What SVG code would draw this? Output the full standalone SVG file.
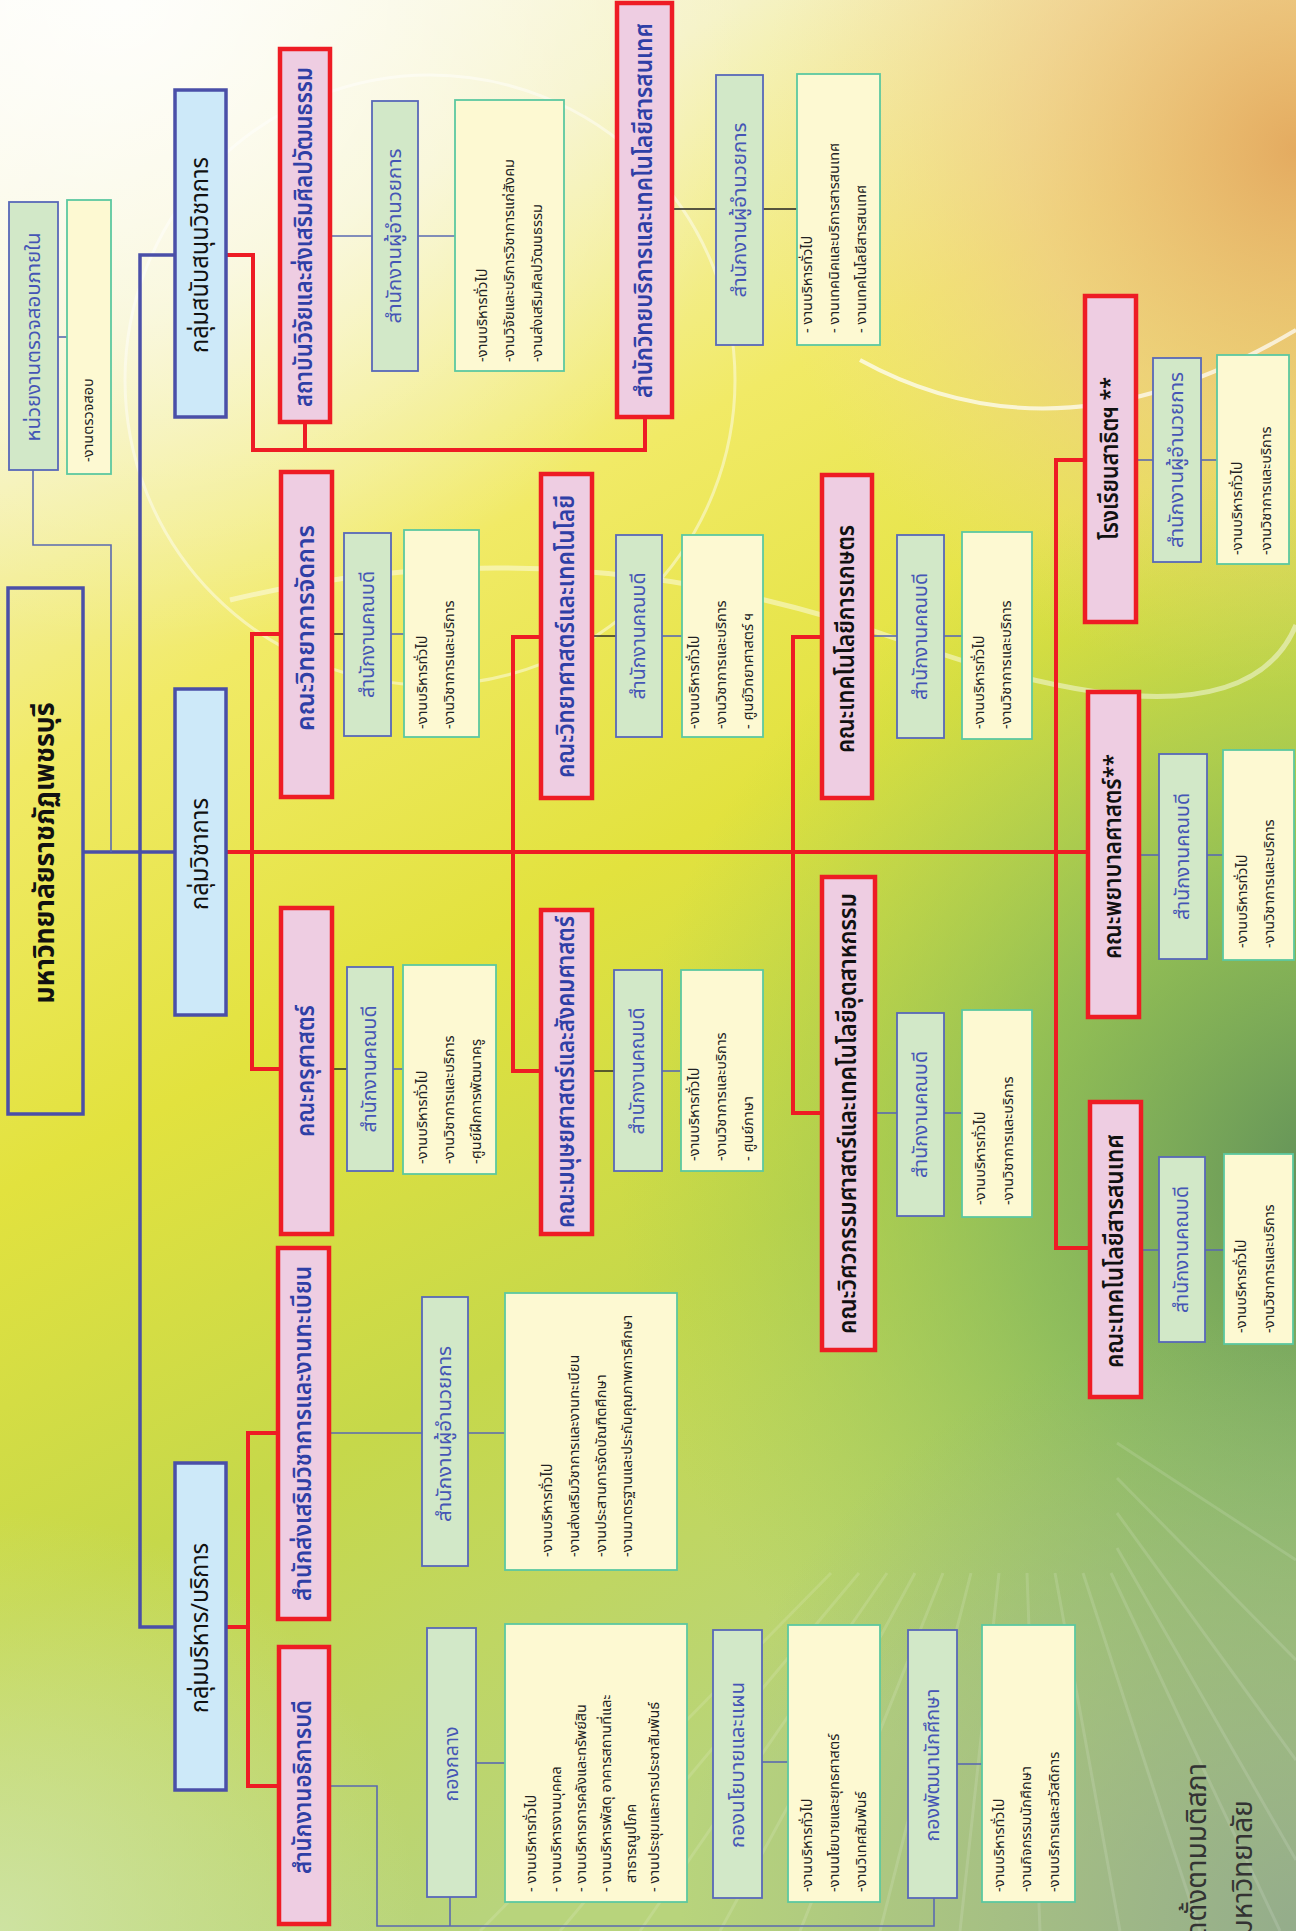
<svg xmlns="http://www.w3.org/2000/svg" width="1296" height="1931" viewBox="0 0 1296 1931">
<style>
.root{fill:none;stroke:#4a4fa8;stroke-width:3.5}
.grp{fill:#cde9f9;stroke:#4a4fa8;stroke-width:3.5}
.unit{fill:#eecde2;stroke:#ee1c24;stroke-width:4.5}
.sub{fill:#d2e8c8;stroke:#5868b8;stroke-width:1.8}
.cnt{fill:#fdf9d2;stroke:#5cc8a0;stroke-width:1.8}
.lb{fill:none;stroke:#4a4fa8;stroke-width:3.5}
.lr{fill:none;stroke:#ee1c24;stroke-width:4}
.lt{fill:none;stroke:#5a6ab0;stroke-width:1.6}
.lk{fill:none;stroke:#222;stroke-width:1.4}
text{font-family:"Noto Sans Thai","Noto Sans","Liberation Sans",sans-serif}
.tr{font-size:28px;font-weight:bold;fill:#111;text-anchor:middle;dominant-baseline:central}
.tg{font-size:24px;fill:#111;text-anchor:middle;dominant-baseline:central}
.tu{font-size:24px;font-weight:600;fill:#2f3fa6;text-anchor:middle;dominant-baseline:central}
.tk{font-size:24px;font-weight:600;fill:#111;text-anchor:middle;dominant-baseline:central}
.ts{font-size:20px;fill:#4555b5;text-anchor:middle;dominant-baseline:central}
.tc{font-size:14.5px;fill:#222;dominant-baseline:central}
.tf{font-size:28px;fill:#333;text-anchor:end;dominant-baseline:central}
</style>
<defs>
<linearGradient id="bg" x1="0" y1="0" x2="0.35" y2="1">
<stop offset="0" stop-color="#fbfaee"/>
<stop offset="0.18" stop-color="#f5f2c4"/>
<stop offset="0.36" stop-color="#f1ea66"/>
<stop offset="0.55" stop-color="#e2e23e"/>
<stop offset="0.75" stop-color="#c6d84a"/>
<stop offset="1" stop-color="#b8d47c"/>
</linearGradient>
<radialGradient id="peach" cx="1296" cy="150" r="540" gradientUnits="userSpaceOnUse">
<stop offset="0" stop-color="#e2a060" stop-opacity="0.85"/>
<stop offset="0.5" stop-color="#efc490" stop-opacity="0.6"/>
<stop offset="1" stop-color="#f4d8a0" stop-opacity="0"/>
</radialGradient>
<radialGradient id="dgreen" cx="1340" cy="1180" r="720" gradientUnits="userSpaceOnUse">
<stop offset="0" stop-color="#5a8a58" stop-opacity="0.95"/>
<stop offset="0.45" stop-color="#7cb45a" stop-opacity="0.7"/>
<stop offset="1" stop-color="#9ccc50" stop-opacity="0"/>
</radialGradient>
<radialGradient id="bgreen" cx="1300" cy="1931" r="620" gradientUnits="userSpaceOnUse">
<stop offset="0" stop-color="#92aa8c" stop-opacity="0.95"/>
<stop offset="1" stop-color="#92aa8c" stop-opacity="0"/>
</radialGradient>
<radialGradient id="tl" cx="120" cy="0" r="650" gradientUnits="userSpaceOnUse">
<stop offset="0" stop-color="#ffffff" stop-opacity="0.85"/>
<stop offset="1" stop-color="#ffffff" stop-opacity="0"/>
</radialGradient>
<radialGradient id="bl" cx="0" cy="1931" r="420" gradientUnits="userSpaceOnUse">
<stop offset="0" stop-color="#cfe4a8" stop-opacity="0.9"/>
<stop offset="1" stop-color="#cfe4a8" stop-opacity="0"/>
</radialGradient>
</defs>

<g id="background">
<rect x="0" y="0" width="1296" height="1931" fill="url(#bg)"/>
<rect x="0" y="0" width="1296" height="1931" fill="url(#tl)"/>
<rect x="0" y="0" width="1296" height="1931" fill="url(#peach)"/>
<rect x="0" y="0" width="1296" height="1931" fill="url(#dgreen)"/>
<rect x="0" y="0" width="1296" height="1931" fill="url(#bgreen)"/>
<rect x="0" y="0" width="1296" height="1931" fill="url(#bl)"/>
<circle cx="430" cy="380" r="305" fill="none" stroke="#ffffff" stroke-opacity="0.45" stroke-width="3"/>
<path d="M860,360 Q1060,470 1296,330" fill="none" stroke="#ffffff" stroke-opacity="0.7" stroke-width="4"/>
<path d="M230,600 Q560,520 900,640 T1296,625" fill="none" stroke="#ffffff" stroke-opacity="0.45" stroke-width="5"/>
<g stroke="#ffffff" stroke-opacity="0.13" stroke-width="3">
<line x1="887" y1="1573" x2="640" y2="1931"/>
<line x1="915" y1="1573" x2="720" y2="1931"/>
<line x1="943" y1="1573" x2="800" y2="1931"/>
<line x1="971" y1="1573" x2="880" y2="1931"/>
<line x1="999" y1="1573" x2="960" y2="1931"/>
<line x1="1027" y1="1573" x2="1040" y2="1931"/>
<line x1="1055" y1="1573" x2="1120" y2="1931"/>
<line x1="1083" y1="1573" x2="1200" y2="1931"/>
<line x1="1111" y1="1573" x2="1280" y2="1931"/>
<line x1="1117" y1="1548" x2="1296" y2="1860"/>
<line x1="1117" y1="1513" x2="1296" y2="1760"/>
<line x1="1117" y1="1478" x2="1296" y2="1660"/>
<line x1="1117" y1="1443" x2="1296" y2="1560"/>
<line x1="859" y1="1573" x2="560" y2="1931"/>
<line x1="831" y1="1573" x2="480" y2="1931"/>
</g>
</g>

<g id="connectors">
<path class="lb" d="M83,852 H175"/>
<path class="lb" d="M175,255 H140 V1627 H175"/>
<path class="lt" d="M33,470 V545 H111 V852"/>
<path class="lt" d="M58,337 H67"/>
<path class="lr" d="M226,255 H253 V450 H645 V417"/>
<path class="lr" d="M305,422 V450"/>
<path class="lr" d="M226,852 H1088"/>
<path class="lr" d="M281,634 H252 V1069 H281"/>
<path class="lr" d="M541,637 H513 V1071 H541"/>
<path class="lr" d="M822,637 H793 V1113 H822"/>
<path class="lr" d="M1085,460 H1056 V1248 H1090"/>
<path class="lr" d="M226,1627 H248"/>
<path class="lr" d="M278,1433 H248 V1786 H279"/>
<path class="lt" d="M330,236 H372"/>
<path class="lt" d="M418,236 H455" stroke-width="2.2"/>
<path class="lk" d="M672,209 H716"/>
<path class="lk" d="M763,209 H797"/>
<path class="lk" d="M332,634 H344"/>
<path class="lt" d="M391,634 H404"/>
<path class="lk" d="M332,1069 H347"/>
<path class="lt" d="M393,1069 H403"/>
<path class="lk" d="M592,636 H616"/>
<path class="lt" d="M662,636 H682"/>
<path class="lk" d="M592,1071 H614"/>
<path class="lt" d="M662,1071 H681"/>
<path class="lt" d="M872,636 H897"/>
<path class="lt" d="M944,636 H962"/>
<path class="lt" d="M875,1113 H897"/>
<path class="lt" d="M944,1113 H962"/>
<path class="lt" d="M1141,1250 H1159"/>
<path class="lt" d="M1205,1250 H1224"/>
<path class="lt" d="M1139,855 H1159"/>
<path class="lt" d="M1207,855 H1223"/>
<path class="lt" d="M1136,460 H1153"/>
<path class="lt" d="M1201,460 H1217"/>
<path class="lt" d="M329,1433 H422"/>
<path class="lt" d="M468,1433 H505"/>
<path class="lt" d="M329,1786 H377 V1926 H934 V1898"/>
<path class="lt" d="M450,1897 V1926"/>
<path class="lt" d="M476,1763 H505" stroke-width="2.2"/>
<path class="lt" d="M762,1762 H788"/>
<path class="lt" d="M957,1764 H982"/>
</g>

<g id="n-root"><rect class="root" x="8" y="588" width="75" height="526"/>
<text class="tr" transform="translate(45,853) rotate(-90)" textLength="301" lengthAdjust="spacingAndGlyphs">มหาวิทยาลัยราชภัฏเพชรบุรี</text></g>

<g id="n-audit"><rect class="sub" x="9" y="202" width="49" height="268"/>
<text class="ts" transform="translate(33.5,337) rotate(-90)" textLength="209" lengthAdjust="spacingAndGlyphs">หน่วยงานตรวจสอบภายใน</text></g>
<g id="n-audit-c"><rect class="cnt" x="67" y="200" width="44" height="274"/>
<text class="tc" transform="translate(89,462) rotate(-90)">-งานตรวจสอบ</text></g>

<g id="n-g-support"><rect class="grp" x="175" y="90" width="51" height="327"/>
<text class="tg" transform="translate(200.5,255) rotate(-90)" textLength="196" lengthAdjust="spacingAndGlyphs">กลุ่มสนับสนุนวิชาการ</text></g>
<g id="n-g-acad"><rect class="grp" x="175" y="689" width="51" height="326"/>
<text class="tg" transform="translate(200.5,854) rotate(-90)" textLength="112" lengthAdjust="spacingAndGlyphs">กลุ่มวิชาการ</text></g>
<g id="n-g-admin"><rect class="grp" x="175" y="1463" width="51" height="327"/>
<text class="tg" transform="translate(200.5,1628) rotate(-90)" textLength="170" lengthAdjust="spacingAndGlyphs">กลุ่มบริหาร/บริการ</text></g>

<g id="n-research"><rect class="unit" x="280" y="49" width="50" height="373"/>
<text class="tu" transform="translate(305,237) rotate(-90)" textLength="340" lengthAdjust="spacingAndGlyphs">สถาบันวิจัยและส่งเสริมศิลปวัฒนธรรม</text></g>
<g id="n-research-s"><rect class="sub" x="372" y="101" width="46" height="270"/>
<text class="ts" transform="translate(395,236) rotate(-90)" textLength="175" lengthAdjust="spacingAndGlyphs">สำนักงานผู้อำนวยการ</text></g>
<g id="n-research-c"><rect class="cnt" x="455" y="100" width="109" height="271"/>
<text class="tc" transform="translate(483,362) rotate(-90)">-งานบริหารทั่วไป</text>
<text class="tc" transform="translate(510,362) rotate(-90)">-งานวิจัยและบริการวิชาการแก่สังคม</text>
<text class="tc" transform="translate(538,362) rotate(-90)">-งานส่งเสริมศิลปวัฒนธรรม</text></g>

<g id="n-library"><rect class="unit" x="617" y="3" width="55" height="414"/>
<text class="tu" transform="translate(644.5,210.5) rotate(-90)" textLength="375" lengthAdjust="spacingAndGlyphs">สำนักวิทยบริการและเทคโนโลยีสารสนเทศ</text></g>
<g id="n-library-s"><rect class="sub" x="716" y="75" width="47" height="270"/>
<text class="ts" transform="translate(739.5,210) rotate(-90)" textLength="175" lengthAdjust="spacingAndGlyphs">สำนักงานผู้อำนวยการ</text></g>
<g id="n-library-c"><rect class="cnt" x="797" y="74" width="83" height="271"/>
<text class="tc" transform="translate(808,333) rotate(-90)">- งานบริหารทั่วไป</text>
<text class="tc" transform="translate(835,333) rotate(-90)">- งานเทคนิคและบริการสารสนเทศ</text>
<text class="tc" transform="translate(862,333) rotate(-90)">- งานเทคโนโลยีสารสนเทศ</text></g>

<g id="n-mgmt"><rect class="unit" x="281" y="472" width="51" height="325"/>
<text class="tu" transform="translate(306.5,628) rotate(-90)" textLength="206" lengthAdjust="spacingAndGlyphs">คณะวิทยาการจัดการ</text></g>
<g id="n-mgmt-s"><rect class="sub" x="344" y="533" width="47" height="203"/>
<text class="ts" transform="translate(367.5,634.5) rotate(-90)" textLength="127" lengthAdjust="spacingAndGlyphs">สำนักงานคณบดี</text></g>
<g id="n-mgmt-c"><rect class="cnt" x="404" y="530" width="75" height="207"/>
<text class="tc" transform="translate(423,729) rotate(-90)">-งานบริหารทั่วไป</text>
<text class="tc" transform="translate(450,729) rotate(-90)">-งานวิชาการและบริการ</text></g>

<g id="n-edu"><rect class="unit" x="281" y="908" width="51" height="326"/>
<text class="tu" transform="translate(306.5,1071) rotate(-90)" textLength="132" lengthAdjust="spacingAndGlyphs">คณะครุศาสตร์</text></g>
<g id="n-edu-s"><rect class="sub" x="347" y="967" width="46" height="204"/>
<text class="ts" transform="translate(370,1069) rotate(-90)" textLength="127" lengthAdjust="spacingAndGlyphs">สำนักงานคณบดี</text></g>
<g id="n-edu-c"><rect class="cnt" x="403" y="965" width="93" height="209"/>
<text class="tc" transform="translate(423,1164) rotate(-90)">-งานบริหารทั่วไป</text>
<text class="tc" transform="translate(450,1164) rotate(-90)">-งานวิชาการและบริการ</text>
<text class="tc" transform="translate(477,1164) rotate(-90)">-ศูนย์ฝึกการพัฒนาครู</text></g>

<g id="n-sci"><rect class="unit" x="541" y="474" width="51" height="324"/>
<text class="tu" transform="translate(566.5,636.5) rotate(-90)" textLength="283" lengthAdjust="spacingAndGlyphs">คณะวิทยาศาสตร์และเทคโนโลยี</text></g>
<g id="n-sci-s"><rect class="sub" x="616" y="535" width="46" height="202"/>
<text class="ts" transform="translate(639,636) rotate(-90)" textLength="127" lengthAdjust="spacingAndGlyphs">สำนักงานคณบดี</text></g>
<g id="n-sci-c"><rect class="cnt" x="682" y="535" width="81" height="202"/>
<text class="tc" transform="translate(695,729) rotate(-90)">-งานบริหารทั่วไป</text>
<text class="tc" transform="translate(722,729) rotate(-90)">-งานวิชาการและบริการ</text>
<text class="tc" transform="translate(749,729) rotate(-90)">- ศูนย์วิทยาศาสตร์ ฯ</text></g>

<g id="n-hum"><rect class="unit" x="541" y="910" width="51" height="324"/>
<text class="tu" transform="translate(566.5,1072) rotate(-90)" textLength="312" lengthAdjust="spacingAndGlyphs">คณะมนุษยศาสตร์และสังคมศาสตร์</text></g>
<g id="n-hum-s"><rect class="sub" x="614" y="970" width="48" height="201"/>
<text class="ts" transform="translate(638,1071) rotate(-90)" textLength="127" lengthAdjust="spacingAndGlyphs">สำนักงานคณบดี</text></g>
<g id="n-hum-c"><rect class="cnt" x="681" y="970" width="82" height="201"/>
<text class="tc" transform="translate(695,1161) rotate(-90)">-งานบริหารทั่วไป</text>
<text class="tc" transform="translate(722,1161) rotate(-90)">-งานวิชาการและบริการ</text>
<text class="tc" transform="translate(749,1161) rotate(-90)">- ศูนย์ภาษา</text></g>

<g id="n-agri"><rect class="unit" x="822" y="475" width="50" height="323"/>
<text class="tk" transform="translate(847,639) rotate(-90)" textLength="228" lengthAdjust="spacingAndGlyphs">คณะเทคโนโลยีการเกษตร</text></g>
<g id="n-agri-s"><rect class="sub" x="897" y="535" width="47" height="203"/>
<text class="ts" transform="translate(920.5,636.5) rotate(-90)" textLength="127" lengthAdjust="spacingAndGlyphs">สำนักงานคณบดี</text></g>
<g id="n-agri-c"><rect class="cnt" x="962" y="532" width="70" height="207"/>
<text class="tc" transform="translate(980,729) rotate(-90)">-งานบริหารทั่วไป</text>
<text class="tc" transform="translate(1007,729) rotate(-90)">-งานวิชาการและบริการ</text></g>

<g id="n-eng"><rect class="unit" x="822" y="877" width="53" height="473"/>
<text class="tk" transform="translate(848.5,1113.5) rotate(-90)" textLength="441" lengthAdjust="spacingAndGlyphs">คณะวิศวกรรมศาสตร์และเทคโนโลยีอุตสาหกรรม</text></g>
<g id="n-eng-s"><rect class="sub" x="897" y="1013" width="47" height="203"/>
<text class="ts" transform="translate(920.5,1114.5) rotate(-90)" textLength="127" lengthAdjust="spacingAndGlyphs">สำนักงานคณบดี</text></g>
<g id="n-eng-c"><rect class="cnt" x="962" y="1010" width="70" height="207"/>
<text class="tc" transform="translate(981,1205) rotate(-90)">-งานบริหารทั่วไป</text>
<text class="tc" transform="translate(1009,1205) rotate(-90)">-งานวิชาการและบริการ</text></g>

<g id="n-it"><rect class="unit" x="1090" y="1102" width="51" height="295"/>
<text class="tk" transform="translate(1115.5,1251) rotate(-90)" textLength="234" lengthAdjust="spacingAndGlyphs">คณะเทคโนโลยีสารสนเทศ</text></g>
<g id="n-it-s"><rect class="sub" x="1159" y="1157" width="46" height="185"/>
<text class="ts" transform="translate(1182,1249.5) rotate(-90)" textLength="127" lengthAdjust="spacingAndGlyphs">สำนักงานคณบดี</text></g>
<g id="n-it-c"><rect class="cnt" x="1224" y="1154" width="69" height="190"/>
<text class="tc" transform="translate(1242,1333) rotate(-90)">-งานบริหารทั่วไป</text>
<text class="tc" transform="translate(1270,1333) rotate(-90)">-งานวิชาการและบริการ</text></g>

<g id="n-demo"><rect class="unit" x="1085" y="296" width="51" height="326"/>
<text class="tk" transform="translate(1110.5,458.5) rotate(-90)" textLength="163" lengthAdjust="spacingAndGlyphs">โรงเรียนสาธิตฯ **</text></g>
<g id="n-demo-s"><rect class="sub" x="1153" y="358" width="48" height="204"/>
<text class="ts" transform="translate(1177,460) rotate(-90)" textLength="176" lengthAdjust="spacingAndGlyphs">สำนักงานผู้อำนวยการ</text></g>
<g id="n-demo-c"><rect class="cnt" x="1217" y="355" width="72" height="209"/>
<text class="tc" transform="translate(1238,555) rotate(-90)">-งานบริหารทั่วไป</text>
<text class="tc" transform="translate(1267,555) rotate(-90)">-งานวิชาการและบริการ</text></g>

<g id="n-nurse"><rect class="unit" x="1088" y="692" width="51" height="325"/>
<text class="tk" transform="translate(1113.5,856.5) rotate(-90)" textLength="205" lengthAdjust="spacingAndGlyphs">คณะพยาบาลศาสตร์**</text></g>
<g id="n-nurse-s"><rect class="sub" x="1159" y="754" width="48" height="205"/>
<text class="ts" transform="translate(1183,856.5) rotate(-90)" textLength="127" lengthAdjust="spacingAndGlyphs">สำนักงานคณบดี</text></g>
<g id="n-nurse-c"><rect class="cnt" x="1223" y="750" width="71" height="210"/>
<text class="tc" transform="translate(1243,948) rotate(-90)">-งานบริหารทั่วไป</text>
<text class="tc" transform="translate(1270,948) rotate(-90)">-งานวิชาการและบริการ</text></g>

<g id="n-acadpromo"><rect class="unit" x="278" y="1248" width="51" height="371"/>
<text class="tu" transform="translate(303.5,1433.5) rotate(-90)" textLength="335" lengthAdjust="spacingAndGlyphs">สำนักส่งเสริมวิชาการและงานทะเบียน</text></g>
<g id="n-acadpromo-s"><rect class="sub" x="422" y="1297" width="46" height="269"/>
<text class="ts" transform="translate(445,1434) rotate(-90)" textLength="176" lengthAdjust="spacingAndGlyphs">สำนักงานผู้อำนวยการ</text></g>
<g id="n-acadpromo-c"><rect class="cnt" x="505" y="1293" width="172" height="277"/>
<text class="tc" transform="translate(548,1557) rotate(-90)">-งานบริหารทั่วไป</text>
<text class="tc" transform="translate(575,1557) rotate(-90)">-งานส่งเสริมวิชาการและงานทะเบียน</text>
<text class="tc" transform="translate(602,1557) rotate(-90)">-งานประสานการจัดบัณฑิตศึกษา</text>
<text class="tc" transform="translate(628,1557) rotate(-90)">-งานมาตรฐานและประกันคุณภาพการศึกษา</text></g>

<g id="n-president"><rect class="unit" x="279" y="1647" width="50" height="277"/>
<text class="tu" transform="translate(304,1787) rotate(-90)" textLength="174" lengthAdjust="spacingAndGlyphs">สำนักงานอธิการบดี</text></g>
<g id="n-central"><rect class="sub" x="427" y="1628" width="49" height="269"/>
<text class="ts" transform="translate(451.5,1764) rotate(-90)" textLength="75" lengthAdjust="spacingAndGlyphs">กองกลาง</text></g>
<g id="n-central-c"><rect class="cnt" x="505" y="1624" width="182" height="278"/>
<text class="tc" transform="translate(532,1892) rotate(-90)">- งานบริหารทั่วไป</text>
<text class="tc" transform="translate(557,1892) rotate(-90)">- งานบริหารงานบุคคล</text>
<text class="tc" transform="translate(582,1892) rotate(-90)">- งานบริหารการคลังและทรัพย์สิน</text>
<text class="tc" transform="translate(607,1892) rotate(-90)">- งานบริหารพัสดุ อาคารสถานที่และ</text>
<text class="tc" transform="translate(632,1883) rotate(-90)">สาธารณูปโภค</text>
<text class="tc" transform="translate(655,1892) rotate(-90)">- งานประชุมและการประชาสัมพันธ์</text></g>

<g id="n-plan"><rect class="sub" x="713" y="1630" width="49" height="268"/>
<text class="ts" transform="translate(737.5,1765) rotate(-90)" textLength="166" lengthAdjust="spacingAndGlyphs">กองนโยบายและแผน</text></g>
<g id="n-plan-c"><rect class="cnt" x="788" y="1625" width="92" height="277"/>
<text class="tc" transform="translate(808,1892) rotate(-90)">-งานบริหารทั่วไป</text>
<text class="tc" transform="translate(835,1892) rotate(-90)">-งานนโยบายและยุทธศาสตร์</text>
<text class="tc" transform="translate(862,1892) rotate(-90)">-งานวิเทศสัมพันธ์</text></g>

<g id="n-student"><rect class="sub" x="908" y="1630" width="49" height="268"/>
<text class="ts" transform="translate(932.5,1765) rotate(-90)" textLength="153" lengthAdjust="spacingAndGlyphs">กองพัฒนานักศึกษา</text></g>
<g id="n-student-c"><rect class="cnt" x="982" y="1625" width="93" height="277"/>
<text class="tc" transform="translate(1000,1892) rotate(-90)">-งานบริหารทั่วไป</text>
<text class="tc" transform="translate(1027,1892) rotate(-90)">-งานกิจกรรมนักศึกษา</text>
<text class="tc" transform="translate(1055,1892) rotate(-90)">-งานบริการและสวัสดิการ</text></g>

<g id="footnote">
<text class="tf" transform="translate(1197,1763) rotate(-90)">จัดตั้งตามมติสภา</text>
<text class="tf" transform="translate(1243,1800) rotate(-90)">มหาวิทยาลัย</text>
</g>
</svg>
